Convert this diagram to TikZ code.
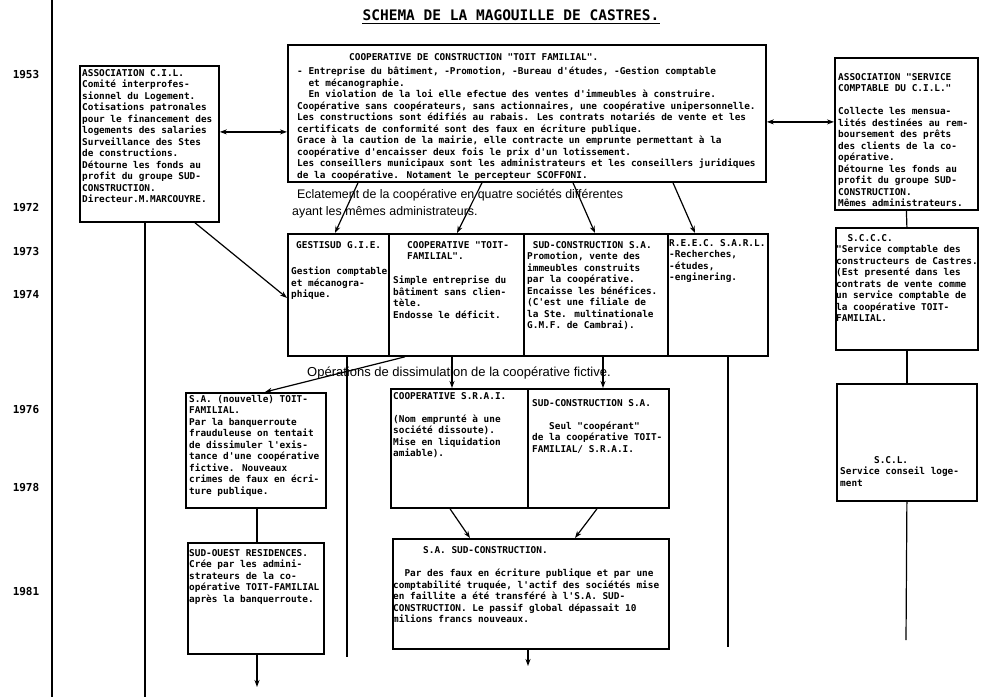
\documentclass[tikz,border=0pt]{standalone}
\usepackage{fontspec}
\setmainfont{Liberation Sans}
\newfontfamily\mono{DejaVu Sans Mono}
\usetikzlibrary{arrows.meta}
\begin{document}
\begin{tikzpicture}[x=1pt,y=-1pt,
 box/.style={draw, line width=1.8pt, inner sep=0pt, anchor=north west},
 txt/.style={inner sep=0pt, anchor=north west, align=left, font=\mono\bfseries\fontsize{9.4}{11.5}\selectfont},
 sans/.style={inner sep=0pt, anchor=west, font=\fontsize{12.4}{14}\selectfont},
 year/.style={inner sep=0pt, font=\mono\bfseries\fontsize{11}{13}\selectfont},
 conn/.style={line width=1.2pt},
 arr/.style={conn, -{Stealth[length=7pt,width=5pt]}},
 dbl/.style={conn, {Stealth[length=7pt,width=5pt]}-{Stealth[length=7pt,width=5pt]}},
]
\useasboundingbox (0,0) rectangle (995,697);

% title
\node[inner sep=0pt, font=\mono\bfseries\fontsize{14.5}{16}\selectfont] (title) at (511,15) {SCHEMA DE LA MAGOUILLE DE CASTRES.};
\draw[line width=1.2pt] ([yshift=-3pt]title.south west) -- ([yshift=-3pt]title.south east);

% timeline
\coordinate (tl1) at (52,0);
\coordinate (tl2) at (52,697);
\draw[line width=1.4pt] (tl1) -- (tl2);
\node[year] (y1953) at (26,75) {1953};
\node[year] (y1972) at (26,208) {1972};
\node[year] (y1973) at (26,252) {1973};
\node[year] (y1974) at (26,295) {1974};
\node[year] (y1976) at (26,410) {1976};
\node[year] (y1978) at (26,488) {1978};
\node[year] (y1981) at (26,592) {1981};

% boxes
\node[box, minimum width=139pt, minimum height=156pt] (cil) at (79,65) {};
\node[box, minimum width=478pt, minimum height=137pt] (coop) at (287,44) {};
\node[box, minimum width=143pt, minimum height=152pt] (sccil) at (834,57) {};
\node[box, minimum width=101pt, minimum height=122pt] (gest) at (287,233) {};
\node[box, minimum width=135pt, minimum height=122pt] (toit) at (388,233) {};
\node[box, minimum width=144pt, minimum height=122pt] (sudc) at (523,233) {};
\node[box, minimum width=100pt, minimum height=122pt] (reec) at (667,233) {};
\node[box, minimum width=142pt, minimum height=122pt] (sccc) at (835,227) {};
\node[box, minimum width=140pt, minimum height=117pt] (scl) at (836,383) {};
\node[box, minimum width=140pt, minimum height=115pt] (nouv) at (185,392) {};
\node[box, minimum width=137pt, minimum height=119pt] (srai) at (390,388) {};
\node[box, minimum width=141pt, minimum height=119pt] (sudcb) at (527,388) {};
\node[box, minimum width=136pt, minimum height=111pt] (sudouest) at (187,542) {};
\node[box, minimum width=276pt, minimum height=110pt] (sasud) at (392,538) {};

% texts
\node[txt] (tcil) at (82,69) {ASSOCIATION C.I.L.\\
Comité interprofes-\\
sionnel du Logement.\\
Cotisations patronales\\
pour le financement des\\
logements des salaries\\
Surveillance des Stes\\
de constructions.\\
Détourne les fonds au\\
profit du groupe SUD-\\
CONSTRUCTION.\\
Directeur.M.MARCOUYRE.};

\node[txt] (tcoop1) at (349,53) {COOPERATIVE DE CONSTRUCTION "TOIT FAMILIAL".};
\node[txt] (tcoop2) at (297,67) {- Entreprise du bâtiment, -Promotion, -Bureau d'études, -Gestion comptable\\
\hphantom{00}et mécanographie.\\
\hphantom{00}En violation de la loi elle efectue des ventes d'immeubles à construire.\\
Coopérative sans coopérateurs, sans actionnaires, une coopérative unipersonnelle.\\
Les constructions sont édifiés au rabais. Les contrats notariés de vente et les\\
certificats de conformité sont des faux en écriture publique.\\
Grace à la caution de la mairie, elle contracte un emprunte permettant à la\\
coopérative d'encaisser deux fois le prix d'un lotissement.\\
Les conseillers municipaux sont les administrateurs et les conseillers juridiques\\
de la coopérative. Notament le percepteur SCOFFONI.};

\node[txt] (tsccil) at (838,73) {ASSOCIATION "SERVICE\\
COMPTABLE DU C.I.L."\\[11.5pt]
Collecte les mensua-\\
lités destinées au rem-\\
boursement des prêts\\
des clients de la co-\\
opérative.\\
Détourne les fonds au\\
profit du groupe SUD-\\
CONSTRUCTION.\\
Mêmes administrateurs.};

\node[txt] (tgest1) at (296,241) {GESTISUD G.I.E.};
\node[txt] (tgest2) at (291,267) {Gestion comptable\\et mécanogra-\\phique.};

\node[txt] (ttoit1) at (407,241) {COOPERATIVE "TOIT-\\FAMILIAL".};
\node[txt] (ttoit2) at (393,276) {Simple entreprise du\\bâtiment sans clien-\\tèle.\\Endosse le déficit.};

\node[txt] (tsudc) at (527,241) {\hphantom{0}SUD-CONSTRUCTION S.A.\\
Promotion, vente des\\
immeubles construits\\
par la coopérative.\\
Encaisse les bénéfices.\\
(C'est une filiale de\\
la Ste. multinationale\\
G.M.F. de Cambrai).};

\node[txt] (treec) at (669,239) {R.E.E.C. S.A.R.L.\\-Recherches,\\-études,\\-enginering.};

\node[txt] (tsccc) at (836,234) {\hphantom{00}S.C.C.C.\\
"Service comptable des\\
constructeurs de Castres.\\
(Est presenté dans les\\
contrats de vente comme\\
un service comptable de\\
la coopérative TOIT-\\
FAMILIAL.};

\node[txt] (tscl) at (840,456) {\hphantom{000000}S.C.L.\\Service conseil loge-\\ment};

\node[txt] (tnouv) at (189,395) {S.A. (nouvelle) TOIT-\\
FAMILIAL.\\
Par la banquerroute\\
frauduleuse on tentait\\
de dissimuler l'exis-\\
tance d'une coopérative\\
fictive. Nouveaux\\
crimes de faux en écri-\\
ture publique.};

\node[txt] (tsrai) at (393,392) {COOPERATIVE S.R.A.I.\\[11.5pt]
(Nom emprunté à une\\
société dissoute).\\
Mise en liquidation\\
amiable).};

\node[txt] (tsudcb) at (532,399) {SUD-CONSTRUCTION S.A.\\[11.5pt]
\hphantom{000}Seul "coopérant"\\
de la coopérative TOIT-\\
FAMILIAL/ S.R.A.I.};

\node[txt] (tsudouest) at (189,549) {SUD-OUEST RESIDENCES.\\
Crée par les admini-\\
strateurs de la co-\\
opérative TOIT-FAMILIAL\\
après la banquerroute.};

\node[txt] (tsasud1) at (423,546) {S.A. SUD-CONSTRUCTION.};
\node[txt] (tsasud2) at (393,569) {\hphantom{00}Par des faux en écriture publique et par une\\
comptabilité truquée, l'actif des sociétés mise\\
en faillite a été transféré à l'S.A. SUD-\\
CONSTRUCTION. Le passif global dépassait 10\\
milions francs nouveaux.};

% sans captions
\node[sans] (eclat1) at (297,195) {Eclatement de la coopérative en quatre sociétés différentes};
\node[sans] (eclat2) at (292,212) {ayant les mêmes administrateurs.};
\node[sans, font=\fontsize{13}{15}\selectfont] (ops) at (307,373) {Opérations de dissimulation de la coopérative fictive.};

% free ends
\coordinate (e1) at (145,697);
\coordinate (e2) at (347,657);
\coordinate (e3) at (728,647);
\coordinate (e4) at (906,640);
\coordinate (e5) at (257,687);
\coordinate (e6) at (528,666);

% connectors
\draw[dbl] ([yshift=12pt]cil.east) -- ([yshift=-18.5pt]coop.west);
\draw[dbl] ([yshift=-8.5pt]coop.east) -- ([yshift=12pt]sccil.west);
\draw[arr] ([xshift=116pt]cil.south west) -- ([yshift=-3pt]gest.west);
\draw[arr] ([xshift=71pt]coop.south west) -- ([xshift=48pt]gest.north west);
\draw[arr] ([xshift=195pt]coop.south west) -- ([xshift=69pt]toit.north west);
\draw[arr] ([xshift=286pt]coop.south west) -- ([xshift=72pt]sudc.north west);
\draw[arr] ([xshift=386pt]coop.south west) -- ([xshift=28pt]reec.north west);
\draw[conn] (sccil.south) -- (sccc.north);
\draw[conn] (sccc.south) -- (scl.north);
\draw[conn] (scl.south) -- (e4);
\draw[conn] ([xshift=66pt]cil.south west) -- (e1);
\draw[conn] ([xshift=60pt]gest.south west) -- (e2);
\draw[arr] ([xshift=17pt]toit.south west) -- ([xshift=80pt]nouv.north west);
\draw[arr] ([xshift=64pt]toit.south west) -- ([xshift=62pt]srai.north west);
\draw[arr] ([xshift=80pt]sudc.south west) -- ([xshift=76pt]sudcb.north west);
\draw[conn] ([xshift=61pt]reec.south west) -- (e3);
\draw[conn] ([xshift=72pt]nouv.south west) -- ([xshift=70pt]sudouest.north west);
\draw[arr] ([xshift=70pt]sudouest.south west) -- (e5);
\draw[arr] ([xshift=60pt]srai.south west) -- ([xshift=78pt]sasud.north west);
\draw[arr] ([xshift=70pt]sudcb.south west) -- ([xshift=183pt]sasud.north west);
\draw[arr] ([xshift=136pt]sasud.south west) -- (e6);
\end{tikzpicture}
\end{document}
